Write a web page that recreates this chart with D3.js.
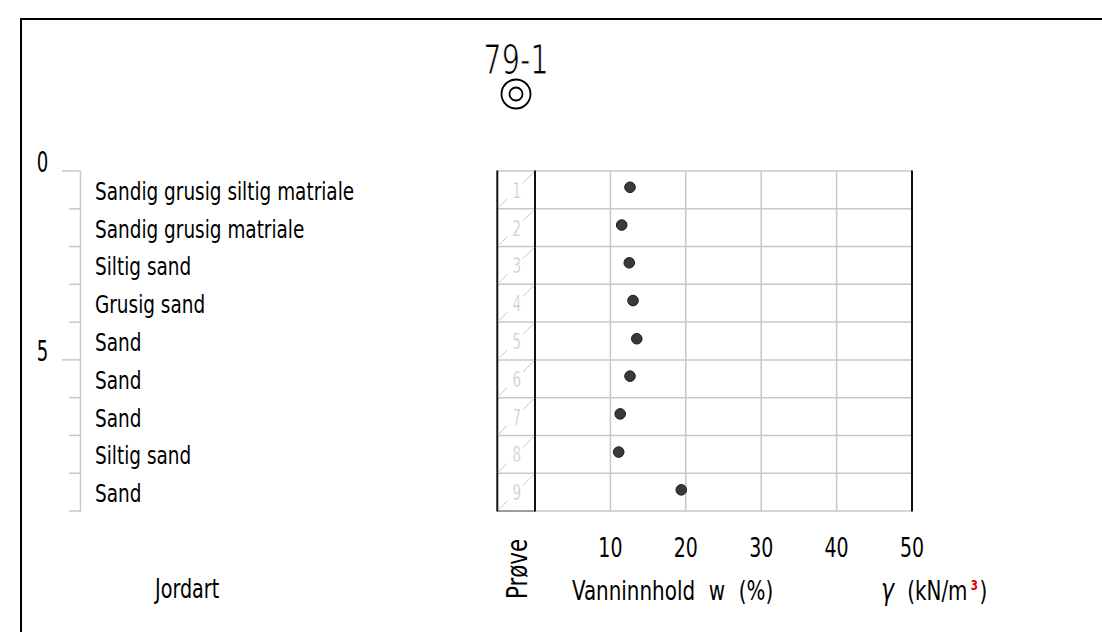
<!DOCTYPE html>
<html><head><meta charset="utf-8">
<script src="https://cdn.jsdelivr.net/npm/d3@7"></script>
<style>
html,body{margin:0;padding:0;background:#fff}
svg{display:block}
text{font-family:"DejaVu Sans Condensed","DejaVu Sans",sans-serif;font-stretch:condensed;fill:#000}
</style>
</head><body>
<svg id="c" width="1102" height="632"></svg>
<script>
// ---- data ----
const boreholeId = "79-1";
const soilNames = ["Sandig grusig siltig matriale","Sandig grusig matriale","Siltig sand","Grusig sand","Sand","Sand","Sand","Siltig sand","Sand"];
const layerTops = [0,1,2,3,4,5,6,7,8];
const layerBottoms = [1,2,3,4,5,6,7,8,9];
const sampleNumbers = [1,2,3,4,5,6,7,8,9];
const sampleDepths = [0.43,1.43,2.43,3.43,4.44,5.43,6.43,7.44,8.44];
const waterContent = [12.6,11.5,12.5,13.0,13.5,12.6,11.3,11.1,19.4];
const xTickValues = [10,20,30,40,50];
const gridValues = [10,20,30,40];
const depthTickValues = [0,1,2,3,4,5,6,7,8,9];
const depthLabelValues = [0,5];
const labelJordart = "Jordart";
const labelProve = "Prøve";
const labelWater = "Vanninnhold w (%)";

// ---- layout ----
const SX = 0.82;
const svg = d3.select("#c");
const y = d3.scaleLinear().domain([0,9]).range([171,511]);
const x = d3.scaleLinear().domain([0,50]).range([535,912]);
const proveLeft = x(-5);

function txt(g, px, py, s, size, anchor, sx){
  return g.append("text")
    .attr("transform", `translate(${px},${py}) scale(${sx||SX},1)`)
    .attr("font-size", size)
    .attr("text-anchor", anchor || "start")
    .text(s);
}

// frame
svg.append("path").attr("d","M21,632 L21,19 L1102,19").attr("fill","none").attr("stroke","#000").attr("stroke-width",2);

// title
txt(svg, 516, 74, boreholeId, 40, "middle", 0.8).style("stroke","#fff").style("stroke-width",1);
svg.append("circle").attr("cx",516).attr("cy",94).attr("r",14.5).attr("fill","none").attr("stroke","#000").attr("stroke-width",1.8);
svg.append("circle").attr("cx",516).attr("cy",94).attr("r",6.5).attr("fill","none").attr("stroke","#000").attr("stroke-width",1.8);

// depth axis
const gray = "#c8c8c8";
svg.append("line").attr("x1",80.5).attr("x2",80.5).attr("y1",y(0)).attr("y2",y(9)).attr("stroke",gray).attr("stroke-width",1.5);
svg.selectAll("line.dt").data(depthTickValues).join("line").attr("class","dt")
  .attr("x1", d => depthLabelValues.includes(d) ? 62 : 69).attr("x2",81)
  .attr("y1", d => y(d)).attr("y2", d => y(d)).attr("stroke",gray).attr("stroke-width",1.5);
depthLabelValues.forEach(d => txt(svg, 42.5, y(d)+1, String(d), 28, "middle", 0.72));

// soil names
soilNames.forEach((s,i) => txt(svg, 95, (y(layerTops[i])+y(layerBottoms[i]))/2 + 10, s, 25, "start"));

// grid
const grid = svg.append("g");
grid.selectAll("line.h").data(depthTickValues).join("line").attr("class","h")
  .attr("x1", proveLeft).attr("x2", x(50)).attr("y1", d=>y(d)).attr("y2", d=>y(d))
  .attr("stroke", gray).attr("stroke-width",1.5);
grid.append("line").attr("x1",proveLeft).attr("x2",x(0)).attr("y1",y(9)).attr("y2",y(9)).attr("stroke","#888").attr("stroke-width",1.5);
grid.selectAll("line.v").data(gridValues).join("line").attr("class","v")
  .attr("x1", d=>x(d)).attr("x2", d=>x(d)).attr("y1", y(0)).attr("y2", y(9))
  .attr("stroke", gray).attr("stroke-width",1.5);
[proveLeft, x(0), x(50)].forEach(px => grid.append("line").attr("x1",px).attr("x2",px).attr("y1",y(0)-0.5).attr("y2",y(9)+0.5).attr("stroke","#111").attr("stroke-width",2));

// sample column cells
const cw = x(0) - proveLeft;
sampleNumbers.forEach((n,i) => {
  const top = y(layerTops[i]), bot = y(layerBottoms[i]);
  const h = bot - top;
  const P = t => [proveLeft + t*cw, bot - t*h];
  const a0 = P(0.02), a1 = P(0.26), b0 = P(0.68), b1 = P(0.98);
  grid.append("line").attr("x1",a0[0]).attr("y1",a0[1]).attr("x2",a1[0]).attr("y2",a1[1]).attr("stroke","#c8c8c8").attr("stroke-width",1);
  grid.append("line").attr("x1",b0[0]).attr("y1",b0[1]).attr("x2",b1[0]).attr("y2",b1[1]).attr("stroke","#c8c8c8").attr("stroke-width",1);
  txt(grid, proveLeft + cw/2 + 0.5, (top+bot)/2 + 8, String(n), 22, "middle", 0.68)
    .style("fill","#bdbdbd").style("stroke","#fff").style("stroke-width",0.6);
});

// points
svg.selectAll("circle.pt").data(sampleNumbers.map((n,i)=>({w:waterContent[i], d:sampleDepths[i]}))).join("circle")
  .attr("class","pt").attr("cx", d=>x(d.w)).attr("cy", d=>y(d.d)).attr("r",5.3)
  .attr("fill","#3a3a3a").attr("stroke","#1c1c1c").attr("stroke-width",1);

// x tick labels
xTickValues.forEach(v => txt(svg, x(v), 557, String(v), 27, "middle", 0.78));

// bottom labels
txt(svg, 155, 598, labelJordart, 26, "start");
svg.append("text").attr("transform", `translate(526.5,569) rotate(-90) scale(${SX},1)`)
  .attr("font-size",29).attr("text-anchor","middle").text(labelProve);
txt(svg, 572, 600, labelWater, 27, "start").attr("word-spacing", 9);
const g = txt(svg, 881, 600, "", 27, "start");
g.append("tspan").attr("font-style","italic").attr("font-size",30).text("γ");
g.append("tspan").attr("dx",16).text("(kN/m");
g.append("tspan").attr("dx",4).attr("dy",-10).attr("font-size",14).attr("font-weight","bold").style("fill","#e00000").text("3");
g.append("tspan").attr("dx",2).attr("dy",10).text(")");
</script>
</body></html>
